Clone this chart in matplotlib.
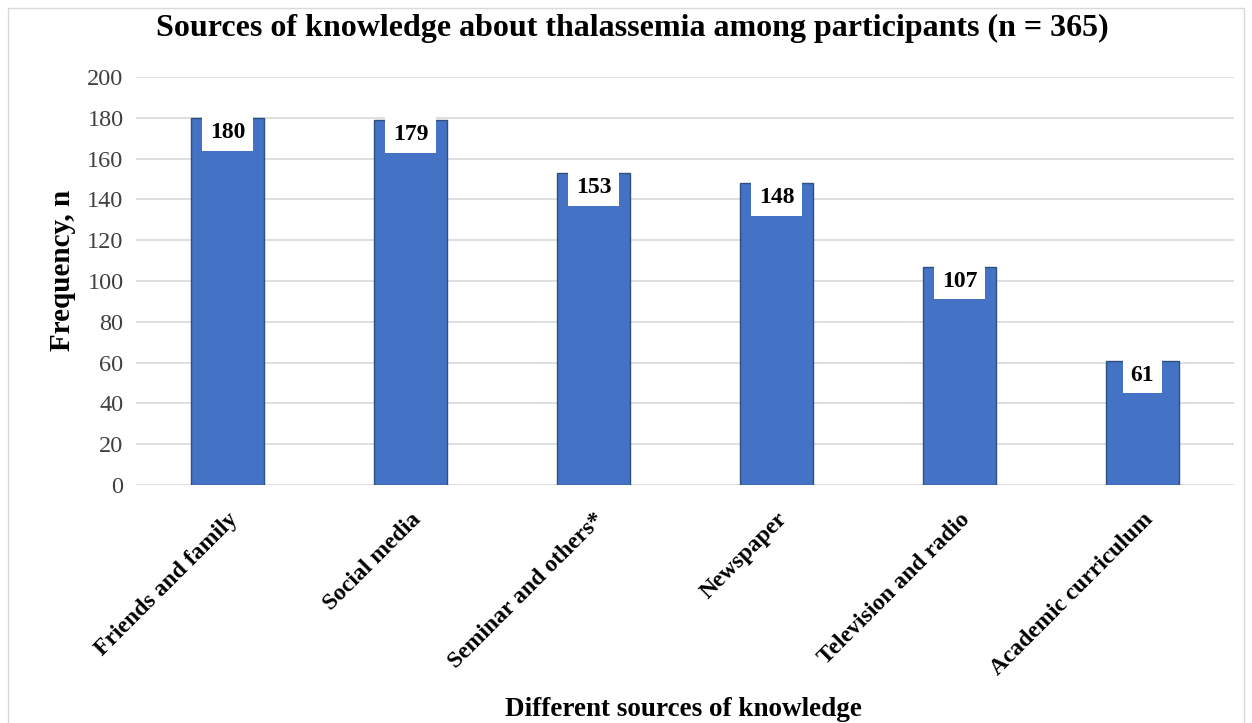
import matplotlib.pyplot as plt
from matplotlib.patches import Rectangle

plt.rcParams['font.family'] = ['Liberation Serif', 'DejaVu Serif']

sources = ['Friends and family', 'Social media', 'Seminar and others*',
           'Newspaper', 'Television and radio', 'Academic curriculum']
counts = [180, 179, 153, 148, 107, 61]
yticks = list(range(0, 201, 20))

fig = plt.figure(figsize=(12.52, 7.23), dpi=100)
ax = fig.add_axes([136 / 1252, 1 - 485 / 723, 1098 / 1252, 408 / 723])

x = range(len(sources))
ax.bar(x, counts, width=0.4, color='#4472C4', edgecolor='#2F4F7F',
       linewidth=1.0, zorder=3)

for xi, v in zip(x, counts):
    ax.annotate(str(v), xy=(xi, v), xytext=(0, -3), textcoords='offset points',
                ha='center', va='top', fontsize=17, fontweight='bold',
                bbox=dict(boxstyle='square,pad=0.32', fc='white', ec='none'),
                zorder=4)

ax.set_xlim(-0.5, len(sources) - 0.5)
ax.set_ylim(0, 200)
ax.set_yticks(yticks)
ax.set_yticklabels([str(t) for t in yticks], fontsize=17.5, color='#404040')
ax.set_xticks(list(x))
ax.set_xticklabels(sources, rotation=45, ha='right', rotation_mode='anchor',
                   fontsize=17, fontweight='bold')
ax.tick_params(axis='both', length=0)
ax.tick_params(axis='y', pad=9)
ax.tick_params(axis='x', pad=17)
ax.grid(axis='y', color='#d9d9d9', linewidth=1.2, zorder=0)
for s in ax.spines.values():
    s.set_visible(False)

fig.text(632 / 1252, 1 - 28 / 723, 'Sources of knowledge about thalassemia among participants (n = 365)',
         ha='center', va='center', fontsize=23, fontweight='bold')
fig.text(62 / 1252, 1 - 270 / 723, 'Frequency, n', rotation=90,
         ha='center', va='center', fontsize=21, fontweight='bold')
fig.text(683 / 1252, 1 - 710 / 723, 'Different sources of knowledge',
         ha='center', va='center', fontsize=19.5, fontweight='bold')

# thin frame around the whole chart
fig.patches.append(Rectangle((8 / 1252, -0.1), 1236 / 1252, 1.1 - 8 / 723,
                             transform=fig.transFigure, fill=False,
                             ec='#d9d9d9', lw=1.0))

fig.savefig('out.png', dpi=100, facecolor='white')
